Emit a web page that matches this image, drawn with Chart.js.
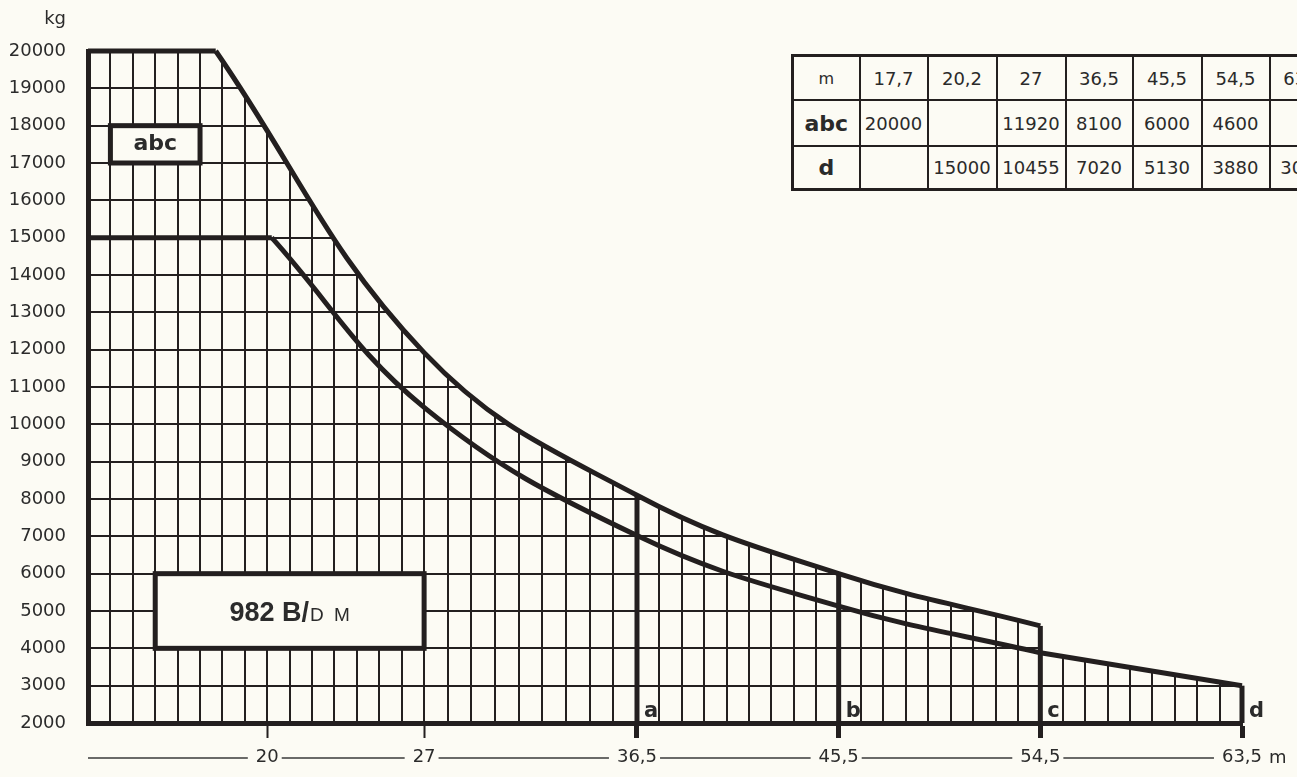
<!DOCTYPE html>
<html>
<head>
<meta charset="utf-8">
<title>982 B/DM</title>
<script src="https://cdn.jsdelivr.net/npm/chart.js@4.4.1/dist/chart.umd.min.js"></script>
<style>
  html, body { margin: 0; padding: 0; background: #fcfbf4; overflow: hidden; }
  #wrap { position: relative; width: 1297px; height: 777px; overflow: hidden; }
  #chart { position: absolute; left: 0; top: 0; }
  #lastTable {
    position: absolute; left: 791px; top: 54px; width: 545px;
    border-collapse: collapse; table-layout: fixed;
    border: 3px solid #231f1f;
    font-family: "DejaVu Sans", sans-serif; color: #2a2a2a;
    background: #fcfbf4;
  }
  #lastTable td {
    border: 2px solid #231f1f; text-align: center; vertical-align: middle;
    font-size: 18px; padding: 0; white-space: nowrap; overflow: hidden;
  }
  #lastTable tr.head td { height: 42px; }
  #lastTable tr.abc td { height: 44px; }
  #lastTable tr.d td { height: 41px; }
  #lastTable td.m { font-size: 16px; }
  #lastTable td.lbl { font-weight: bold; font-size: 22px; }
</style>
</head>
<body>
<div id="wrap">
  <canvas id="chart" width="1297" height="777"></canvas>
  <table id="lastTable">
    <colgroup>
      <col style="width:67px"><col style="width:68px"><col style="width:69px"><col style="width:69px">
      <col style="width:67px"><col style="width:69px"><col style="width:68px"><col style="width:68px">
    </colgroup>
    <tbody></tbody>
  </table>
</div>
<script>
// Ausladung (m) und Traglast (kg) aus der Tabelle
const distM = [17.7, 20.2, 27, 36.5, 45.5, 54.5, 63.5];
const loadABC = [20000, null, 11920, 8100, 6000, 4600, null];
const loadD = [null, 15000, 10455, 7020, 5130, 3880, 3000];
const boomLetters = ['a', 'b', 'c', 'd'];   // an distM[3..6]
const axisTicksM = [20, 27, 36.5, 45.5, 54.5, 63.5];
const X_MIN = 12;
const Y_MIN = 2000, Y_MAX = 20000, Y_STEP = 1000;

const ink = '#231f1f';
const paper = '#fcfbf4';
const textCol = '#2b2b2b';
const font = '"DejaVu Sans", sans-serif';
const boxFont = '"Liberation Sans", Arial, sans-serif';

const fmt = v => String(v).replace('.', ',');

// Tabelle oben rechts
const tbody = document.querySelector('#lastTable tbody');
const rows = [
  ['head', 'm', distM.map(fmt)],
  ['abc', 'abc', loadABC.map(v => v == null ? '' : v)],
  ['d', 'd', loadD.map(v => v == null ? '' : v)]
];
rows.forEach(([cls, first, cells]) => {
  const tr = document.createElement('tr');
  tr.className = cls;
  tr.innerHTML = `<td class="${cls === 'head' ? 'm' : 'lbl'}">${first}</td>` +
    cells.map(c => `<td>${c}</td>`).join('');
  tbody.appendChild(tr);
});

const pts = (xs, ys) => xs.map((x, i) => ({x: x, y: ys[i]})).filter(p => p.y != null);
const abcPts = pts(distM, loadABC);
const dPts = pts(distM, loadD);
const dInner = dPts.filter(p => p.x <= distM[5]);
const dTail = dPts.filter(p => p.x >= distM[5]);

// Gitter: 1 m Raster, zwischen 27 und 36,5 in 9 Felder geteilt
const gridTicks = [];
for (let v = X_MIN + 1; v <= 27; v++) gridTicks.push(v);
for (let i = 1; i < 9; i++) gridTicks.push(27 + i * 9.5 / 9);
for (let v = 37.5; v < distM[6]; v++) {
  if (v !== 45.5 && v !== 54.5) gridTicks.push(v);
}

function lineDs(data, w, extra) {
  return Object.assign({
    data: data, borderColor: ink, borderWidth: w, pointRadius: 0,
    fill: false, clip: false, borderCapStyle: 'butt', borderJoinStyle: 'round'
  }, extra || {});
}

const datasets = [
  lineDs([{x: X_MIN, y: abcPts[0].y}, abcPts[0]], 5),
  lineDs(abcPts, 5, {tension: 0.4, fill: 'end', backgroundColor: paper}),
  lineDs([{x: X_MIN, y: dPts[0].y}, dPts[0]], 5),
  lineDs(dInner, 5, {tension: 0.4}),
  lineDs(dTail, 5, {fill: 'end', backgroundColor: paper}),
];
[3, 4, 5].forEach(i => datasets.push(lineDs([{x: distM[i], y: Y_MIN}, {x: distM[i], y: loadABC[i]}], 5)));
datasets.push(lineDs([{x: distM[6], y: Y_MIN}, {x: distM[6], y: loadD[6]}], 5));

function drawBox(ctx, x, y, x0, x1, y0, y1) {
  const l = x.getPixelForValue(x0), r = x.getPixelForValue(x1);
  const t = y.getPixelForValue(y1), b = y.getPixelForValue(y0);
  ctx.fillStyle = paper;
  ctx.fillRect(l, t, r - l, b - t);
  ctx.lineWidth = 5;
  ctx.strokeStyle = ink;
  ctx.strokeRect(l, t, r - l, b - t);
  ctx.fillStyle = textCol;
  return {cx: (l + r) / 2, cy: (t + b) / 2};
}

const decor = {
  id: 'decor',
  beforeDatasetsDraw(chart) {
    // Naht zwischen den beiden Abdeckflächen bei c schliessen
    const {ctx, chartArea, scales: {x, y}} = chart;
    const cx = x.getPixelForValue(distM[5]);
    ctx.save();
    ctx.strokeStyle = paper;
    ctx.lineWidth = 3;
    ctx.beginPath();
    ctx.moveTo(cx, chartArea.top);
    ctx.lineTo(cx, y.getPixelForValue(loadABC[5]) - 3);
    ctx.stroke();
    ctx.restore();
  },
  afterDatasetsDraw(chart) {
    const {ctx, scales: {x, y}} = chart;
    ctx.save();
    // abc Kasten
    let c = drawBox(ctx, x, y, 13, 17, 17000, 18000);
    ctx.font = 'bold 22px ' + font;
    ctx.textAlign = 'center';
    ctx.textBaseline = 'middle';
    ctx.fillText('abc', c.cx, c.cy);
    // Modell Kasten
    c = drawBox(ctx, x, y, 15, 27, 4000, 6000);
    const t1 = '982 B/', t2 = 'D M';
    ctx.font = 'bold 27px ' + boxFont;
    const w1 = ctx.measureText(t1).width;
    ctx.font = '19px ' + boxFont;
    const w2 = ctx.measureText(t2).width + 6;
    const sx = c.cx - (w1 + w2) / 2;
    ctx.textAlign = 'left';
    ctx.textBaseline = 'alphabetic';
    ctx.font = 'bold 27px ' + boxFont;
    ctx.fillText(t1, sx, c.cy + 10);
    ctx.font = '19px ' + boxFont;
    ctx.fillText('D', sx + w1 + 1, c.cy + 10);
    ctx.fillText('M', sx + w1 + ctx.measureText('D ').width + 6, c.cy + 10);
    ctx.restore();
  },
  afterDraw(chart) {
    const {ctx, chartArea, scales: {x}} = chart;
    ctx.save();
    ctx.fillStyle = textCol;
    // kg
    ctx.font = '18px ' + font;
    ctx.textAlign = 'right';
    ctx.textBaseline = 'middle';
    ctx.fillText('kg', 66, 19);
    // a b c d
    ctx.font = 'bold 21px ' + font;
    ctx.textAlign = 'left';
    ctx.textBaseline = 'alphabetic';
    boomLetters.forEach((l, k) => {
      ctx.fillText(l, x.getPixelForValue(distM[3 + k]) + 7, chartArea.bottom - 6);
    });
    // Linie unter der Achse
    const ly = chartArea.bottom + 35;
    ctx.font = '18px ' + font;
    ctx.strokeStyle = '#3a3a3a';
    ctx.lineWidth = 1.5;
    let start = chartArea.left;
    axisTicksM.forEach(v => {
      const px = x.getPixelForValue(v);
      const w = ctx.measureText(fmt(v)).width;
      ctx.beginPath();
      ctx.moveTo(start, ly);
      ctx.lineTo(px - w / 2 - 8, ly);
      ctx.stroke();
      start = px + w / 2 + 3;
    });
    const lastV = axisTicksM[axisTicksM.length - 1];
    const lastPx = x.getPixelForValue(lastV);
    const lastW = ctx.measureText(fmt(lastV)).width;
    ctx.textBaseline = 'middle';
    ctx.fillText('m', lastPx + lastW / 2 + 7, ly);
    ctx.restore();
  }
};

new Chart(document.getElementById('chart'), {
  type: 'line',
  data: {datasets: datasets},
  options: {
    responsive: false,
    animation: false,
    events: [],
    layout: {padding: {top: 51, right: 55, left: 0, bottom: 0}},
    plugins: {
      legend: {display: false},
      tooltip: {enabled: false},
      filler: {drawTime: 'beforeDatasetsDraw'}
    },
    scales: {
      x: {
        type: 'linear', min: X_MIN, max: distM[6],
        afterBuildTicks: s => { s.ticks = axisTicksM.map(v => ({value: v})); },
        afterFit: s => { s.height = 54; },
        grid: {
          drawOnChartArea: false, drawTicks: true, tickLength: 15, tickColor: ink,
          tickWidth: c => (c.tick && c.tick.value >= 36.5 ? 5 : 2)
        },
        border: {display: true, color: ink, width: 5},
        ticks: {
          color: textCol, font: {family: font, size: 18}, padding: 9,
          maxRotation: 0, autoSkip: false, callback: v => fmt(v)
        }
      },
      xGrid: {
        type: 'linear', position: 'top', min: X_MIN, max: distM[6],
        afterBuildTicks: s => { s.ticks = gridTicks.map(v => ({value: v})); },
        afterFit: s => { s.height = 0; },
        grid: {color: ink, lineWidth: 2, drawTicks: false},
        border: {display: false},
        ticks: {display: false}
      },
      y: {
        min: Y_MIN, max: Y_MAX,
        afterFit: s => { s.width = 88; },
        grid: {
          color: c => (c.tick && c.tick.value === Y_MAX ? 'rgba(0,0,0,0)' : ink),
          lineWidth: 2, drawTicks: false
        },
        border: {color: ink, width: 5},
        ticks: {
          stepSize: Y_STEP, padding: 22, color: textCol,
          font: {family: font, size: 18}, callback: v => String(v)
        }
      }
    }
  },
  plugins: [decor]
});
</script>
</body>
</html>
